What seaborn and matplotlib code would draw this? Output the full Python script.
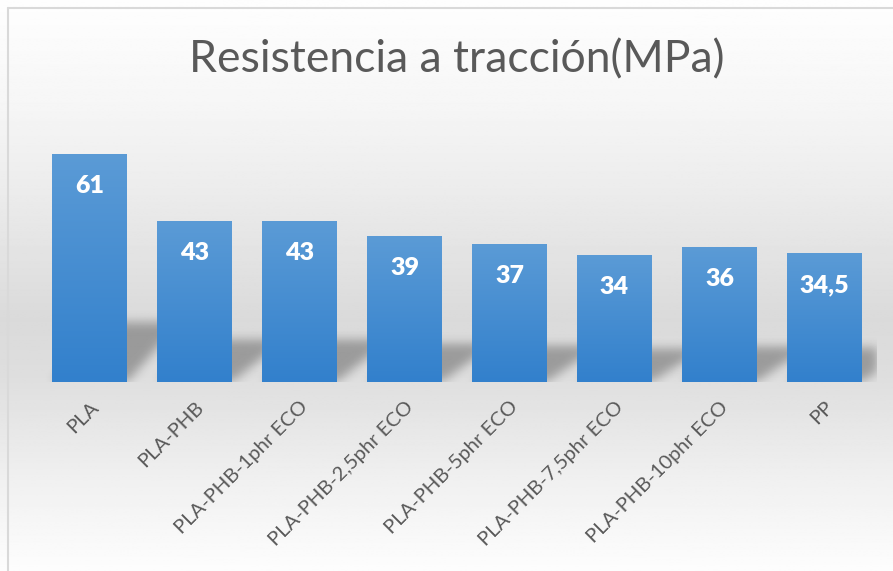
import numpy as np
import pandas as pd
import matplotlib.pyplot as plt
import matplotlib.transforms as mtransforms
from matplotlib.lines import Line2D
import seaborn as sns

# Datos del gráfico
materiales = ['PLA', 'PLA-PHB', 'PLA-PHB-1phr ECO', 'PLA-PHB-2,5phr ECO',
              'PLA-PHB-5phr ECO', 'PLA-PHB-7,5phr ECO', 'PLA-PHB-10phr ECO', 'PP']
resistencia = [61, 43, 43, 39, 37, 34, 36, 34.5]
etiquetas = ['61', '43', '43', '39', '37', '34', '36', '34,5']

sns.set_theme(style='white')
plt.rcParams['font.family'] = ['Lato', 'DejaVu Sans']

W, H = 893, 571
fig = plt.figure(figsize=(W / 100, H / 100), dpi=100)
fig.patch.set_facecolor('white')

# Fondo con degradado (blanco -> gris -> blanco)
bg = fig.add_axes([0, 0, 1, 1], zorder=0)
yy = np.linspace(0, 1, 400)
stops_y = [0.0, 0.18, 0.33, 0.56, 0.66, 0.84, 1.0]
stops_v = [254, 246, 236, 218, 222, 240, 253]
grad = np.interp(yy, stops_y, stops_v) / 255.0
bg.imshow(np.tile(grad[:, None], (1, 2)), cmap='gray', vmin=0, vmax=1,
          aspect='auto', extent=[0, 1, 1, 0])
bg.set_xlim(0, 1)
bg.set_ylim(1, 0)
bg.axis('off')

# marco del gráfico
fig.add_artist(Line2D([8 / W, 8 / W], [0, 1 - 8 / H], color='#d9d9d9', lw=1.5))
fig.add_artist(Line2D([8 / W, 1], [1 - 8 / H, 1 - 8 / H], color='#d9d9d9', lw=1.5))

# Área del gráfico
ax = fig.add_axes([37 / W, (H - 382) / H, 840 / W, 262 / H], zorder=1)
ax.patch.set_alpha(0)

df = pd.DataFrame({'material': materiales, 'valor': resistencia})
sns.barplot(data=df, x='material', y='valor', color='#4a8fd6', saturation=1,
            width=0.714, ax=ax, zorder=3)

ax.set_xlim(-0.5, len(materiales) - 0.5)
ax.set_ylim(0, 70)

# sombra en perspectiva detrás de las barras
x_lo, x_hi = -0.5, len(materiales) - 0.5
y_lo, y_hi = -3, 22
nx, ny = 840, int((y_hi - y_lo) * 3.74)
gx = np.linspace(x_lo, x_hi, nx)
gy = np.linspace(y_lo, y_hi, ny)
X, Y = np.meshgrid(gx, gy)
mask = np.zeros_like(X)
for p in ax.patches:
    x0, w, h = p.get_x(), p.get_width(), p.get_height()
    hs = 0.26 * h
    d = 0.5
    shift = d * np.clip(Y, 0, None) / hs
    inside = (Y >= 0) & (Y <= hs) & (X >= x0 + shift) & (X <= x0 + w + shift)
    mask[inside] = 1.0
k = np.exp(-0.5 * (np.arange(-15, 16) / 5.0) ** 2)
k /= k.sum()
mask = np.apply_along_axis(lambda r: np.convolve(r, k, mode='same'), 1, mask)
mask = np.apply_along_axis(lambda c: np.convolve(c, k, mode='same'), 0, mask)
shadow = np.zeros((ny, nx, 4))
shadow[..., 3] = mask * 0.3
ax.imshow(shadow, extent=[x_lo, x_hi, y_lo, y_hi], origin='lower',
          aspect='auto', zorder=2, interpolation='bilinear')

# degradado en cada barra
bar_grad = np.linspace(0, 1, 256)[:, None]
top = np.array([91, 155, 214]) / 255.0
bottom = np.array([50, 128, 204]) / 255.0
bar_img = bottom + (top - bottom) * bar_grad
bar_img = np.repeat(bar_img[:, None, :], 2, axis=1)
for p in ax.patches:
    x0, w, h = p.get_x(), p.get_width(), p.get_height()
    im = ax.imshow(bar_img, extent=[x0, x0 + w, 0, h], origin='lower',
                   aspect='auto', zorder=3.5)
    im.set_clip_path(p)
    p.set_edgecolor('none')

ax.set_xlim(-0.5, len(materiales) - 0.5)
ax.set_ylim(0, 70)

# etiquetas de valor
for i, (v, lab) in enumerate(zip(resistencia, etiquetas)):
    ax.text(i, v - 8.6, lab, ha='center', va='center', color='white',
            fontsize=18, fontweight='heavy', zorder=5)

ax.set_title('Resistencia a tracción(MPa)', fontsize=32, color='#595959',
             pad=0, y=1 + (382 - 262 - 60) / 262, va='center')
ax.set_xlabel('')
ax.set_ylabel('')
ax.set_yticks([])
ax.tick_params(axis='x', length=0, pad=16)
ax.set_xticks(range(len(materiales)))
ax.set_xticklabels(materiales, rotation=45, ha='right', va='center',
                   rotation_mode='anchor', color='#595959', fontsize=14.5)
offset = mtransforms.ScaledTranslation(6 / 100, 0, fig.dpi_scale_trans)
for lab in ax.get_xticklabels():
    lab.set_transform(lab.get_transform() + offset)
sns.despine(ax=ax, left=True, bottom=True)

fig.savefig('out.png', dpi=100)
